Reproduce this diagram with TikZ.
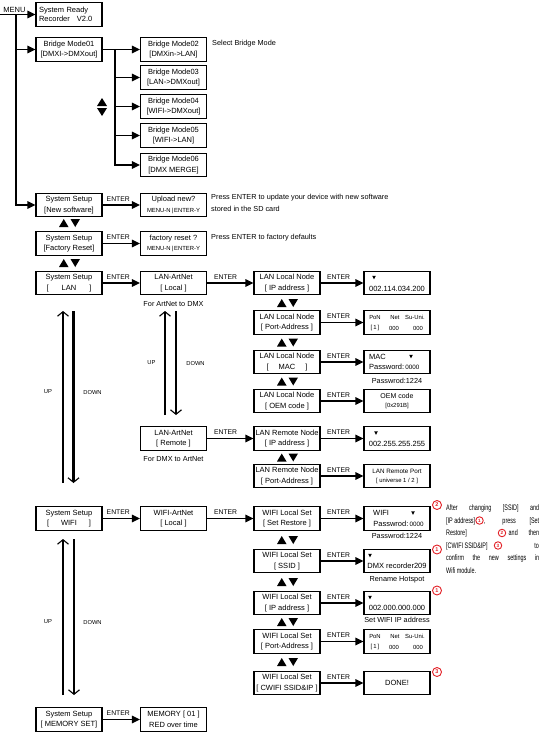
\documentclass[tikz,border=0pt]{standalone}
\usepackage{fontspec}
\setmainfont{Liberation Sans}
\newfontfamily\narrowsans[FakeStretch=0.68]{Liberation Sans}
\usetikzlibrary{arrows.meta,calc}
\definecolor{rred}{RGB}{226,32,38}
\newcommand\fsz[2]{\fontsize{#1}{#2}\selectfont}
\newcommand\UpDownPair[2]{%
  \fill (#1-10.5,#2+4) -- (#1-1,#2+4) -- (#1-5.75,#2-4) -- cycle;
  \fill (#1+1,#2-4) -- (#1+10.5,#2-4) -- (#1+5.75,#2+4) -- cycle;}
\newcommand\DownMark[2]{%
  \fill (#1-1.8,#2-1.6) -- (#1+1.8,#2-1.6) -- (#1,#2+1.8) -- cycle;}
\newcommand\PoNGrid[3]{%
  \node[sml] (#3a) at (#1-22,#2-5.5) {PoN};
  \node[sml] (#3b) at (#1-2,#2-5.5) {Net};
  \node[sml] (#3c) at (#1+18,#2-5.5) {Su-Uni.};
  \node[sml] (#3d) at (#1-22,#2+5.5) {[\,1\,]};
  \node[sml] (#3e) at (#1-3,#2+5.5) {000};
  \node[sml] (#3f) at (#1+21,#2+5.5) {000};}
\begin{document}
\begin{tikzpicture}[x=1pt,y=-1pt,
  box/.style={draw, line width=1.1pt, minimum width=66pt, minimum height=23.5pt, inner sep=0pt, align=center, font=\fsz{7.5}{10.5}},
  vbox/.style={draw, line width=1.1pt, minimum width=66pt, minimum height=23.5pt, inner sep=0pt},
  arr/.style={line width=1.6pt, -{Triangle[length=8pt,width=7.5pt]}},
  entr/.style={above=3pt, inner sep=0pt, font=\fsz{6.8}{8}},
  txt/.style={inner sep=0pt, font=\fsz{7.3}{9}},
  vtxt/.style={inner sep=0pt, font=\fsz{7.5}{9}},
  sml/.style={inner sep=0pt, font=\fsz{5.9}{7}},
  udl/.style={inner sep=0pt, font=\fsz{5.8}{7}},
  ptxt/.style={inner sep=0pt, font=\narrowsans\fsz{8}{9}},
  rc/.style={circle, draw=rred, line width=0.9pt, text=rred, inner sep=0pt, minimum size=9pt, font=\fsz{5.5}{6}\bfseries},
  rcs/.style={rc, minimum size=7.5pt, font=\fsz{4.6}{5}\bfseries},
  barb/.style={-{Straight Barb[length=4.5pt,width=11pt,line width=1.1pt]}},
]
\useasboundingbox (0,0) rectangle (543,736);

% ---------- left column ----------
\node[box, align=left, text width=60pt, inner xsep=3pt, font=\fsz{7.5}{8.5}] (sysready) at (69,14.5) {System Ready\\Recorder\hspace{7pt}V2.0};
\node[box] (bm01) at (69,49.5) {Bridge Mode01\\{}[DMXI->DMXout]};
\node[box] (newsw) at (69,205) {System Setup\\{}[New software]};
\node[box] (factory) at (69,243.5) {System Setup\\{}[Factory Reset]};
\node[box] (lan) at (69,283) {System Setup\\{}[\hspace{13pt}LAN\hspace{13pt}]};
\node[box] (wifi) at (69,518.5) {System Setup\\{}[\hspace{12pt}WIFI\hspace{12pt}]};
\node[box] (memset) at (69,719.5) {System Setup\\{}[ MEMORY SET]};

% ---------- second column ----------
\node[box] (bm02) at (173.5,49.5) {Bridge Mode02\\{}[DMXin->LAN]};
\node[box] (bm03) at (173.5,77.5) {Bridge Mode03\\{}[LAN->DMXout]};
\node[box] (bm04) at (173.5,106.5) {Bridge Mode04\\{}[WIFI->DMXout]};
\node[box] (bm05) at (173.5,135.5) {Bridge Mode05\\{}[WIFI->LAN]};
\node[box] (bm06) at (173.5,165) {Bridge Mode06\\{}[DMX MERGE]};
\node[box] (upload) at (173.5,205) {Upload new?\\{\fsz{5.9}{7}MENU-N\,|\,ENTER-Y}};
\node[box] (freset) at (173.5,243.5) {factory reset ?\\{\fsz{5.9}{7}MENU-N\,|\,ENTER-Y}};
\node[box] (lanlocal) at (173.5,283) {LAN-ArtNet\\{}[ Local ]};
\node[box] (lanremote) at (173.5,438.5) {LAN-ArtNet\\{}[ Remote ]};
\node[box] (wifilocal) at (173.5,518.5) {WIFI-ArtNet\\{}[ Local ]};
\node[box] (memory) at (173.5,719.5) {MEMORY [ 01 ]\\RED over time};

% ---------- third column ----------
\node[box] (llip) at (287,283) {LAN Local Node\\{}[ IP address ]};
\node[box] (llport) at (287,322.5) {LAN Local Node\\{}[ Port-Address ]};
\node[box] (llmac) at (287,362) {LAN Local Node\\{}[\hspace{10pt}MAC\hspace{10pt}]};
\node[box] (lloem) at (287,401) {LAN Local Node\\{}[ OEM code ]};
\node[box] (lrip) at (287,438.5) {LAN Remote Node\\{}[ IP address ]};
\node[box] (lrport) at (287,476) {LAN Remote Node\\{}[ Port-Address ]};
\node[box] (wset) at (287,518.5) {WIFI Local Set\\{}[ Set Restore ]};
\node[box] (wssid) at (287,561) {WIFI Local Set\\{}[ SSID ]};
\node[box] (wip) at (287,603) {WIFI Local Set\\{}[ IP address ]};
\node[box] (wport) at (287,641.5) {WIFI Local Set\\{}[ Port-Address ]};
\node[box] (wcw) at (287,683) {WIFI Local Set\\{}[ CWIFI SSID\&IP ]};

% ---------- fourth column (value boxes) ----------
\node[vbox] (vip) at (397,283) {};
\node[vbox] (vport) at (397,322.5) {};
\node[vbox] (vmac) at (397,362) {};
\node[vbox] (voem) at (397,401) {};
\node[vbox] (vrip) at (397,438.5) {};
\node[vbox] (vrport) at (397,476) {};
\node[vbox] (vwifi) at (397,518.5) {};
\node[vbox] (vssid) at (397,561) {};
\node[vbox] (vwip) at (397,603) {};
\node[vbox] (vwport) at (397,641.5) {};
\node[box] (done) at (397,683) {DONE!};

% value box contents
\DownMark{374}{277.5}
\node[vtxt] (tip1) at (397,288.5) {002.114.034.200};
\PoNGrid{397}{322.5}{lp}
\node[vtxt, anchor=west] (tmac) at (369,356.5) {MAC};
\DownMark{411}{356.5}
\node[vtxt, anchor=west] (tpw) at (369,367) {Password:\,{\fsz{6.3}{7}0000}};
\node[vtxt, font=\fsz{7}{8}] (toem1) at (397,395.5) {OEM code};
\node[sml] (toem2) at (397,406) {[0x291B]};
\DownMark{376}{433}
\node[vtxt] (trip) at (397,443.5) {002.255.255.255};
\node[sml, font=\fsz{6.3}{7}] (trp1) at (397,471) {LAN Remote Port};
\node[sml] (trp2) at (397,481) {[ universe 1 / 2 ]};
\node[vtxt, anchor=west] (twifi) at (373,513) {WIFI};
\DownMark{413}{513}
\node[vtxt] (twpw) at (398.5,523.5) {Passwrod:\,{\fsz{6.3}{7}0000}};
\DownMark{370}{555.5}
\node[vtxt] (tssid) at (397,565.5) {DMX recorder209};
\DownMark{370}{597.5}
\node[vtxt] (twip) at (397,607.5) {002.000.000.000};
\PoNGrid{397}{641.5}{wp}

% texts below boxes
\node[txt] (n1) at (173.5,304) {For ArtNet to DMX};
\node[txt] (n2) at (173.5,459) {For DMX to ArtNet};
\node[txt] (n3) at (397,380.5) {Passwrod:1224};
\node[txt] (n4) at (397,536) {Passwrod:1224};
\node[txt] (n5) at (397,580) {Rename Hotspot};
\node[txt] (n6) at (397,619.5) {Set WIFI IP address};

% side notes
\node[txt, anchor=west] (s1) at (212,43.5) {Select Bridge Mode};
\node[txt, anchor=west] (s2) at (211,197.5) {Press ENTER to update your device with new software};
\node[txt, anchor=west] (s3) at (211,209) {stored in the SD card};
\node[txt, anchor=west] (s4) at (211,238) {Press ENTER to factory defaults};

% ---------- MENU trunk ----------
\node[txt, font=\fsz{7.5}{9}] (menu) at (14.5,9.5) {MENU};
\coordinate (m0) at (0,14.5);
\coordinate (mv) at (16,14.5);
\draw[arr] (m0) -- (sysready.west);
\draw[arr] (mv) |- (newsw.west);
\draw[arr] (mv |- bm01.west) -- (bm01.west);

% bridge branch
\coordinate (bj) at (115,49.5);
\draw[arr] (bm01.east) -- (bj) |- (bm06.west);
\draw[arr] (bj) -- (bm02.west);
\draw[arr] (bj |- bm03.west) -- (bm03.west);
\draw[arr] (bj |- bm04.west) -- (bm04.west);
\draw[arr] (bj |- bm05.west) -- (bm05.west);
\fill (97,106) -- (107,106) -- (102,98) -- cycle;
\fill (97,108) -- (107,108) -- (102,116) -- cycle;

% ---------- ENTER arrows ----------
\draw[arr] (newsw) -- node[entr,pos=0.42] (e1) {ENTER} (upload);
\draw[arr] (factory) -- node[entr,pos=0.42] (e2) {ENTER} (freset);
\draw[arr] (lan) -- node[entr,pos=0.42] (e3) {ENTER} (lanlocal);
\draw[arr] (lanlocal) -- node[entr,pos=0.4] (e4) {ENTER} (llip);
\draw[arr] (llip) -- node[entr,pos=0.42] (e5) {ENTER} (vip);
\draw[arr] (llport) -- node[entr,pos=0.42] (e6) {ENTER} (vport);
\draw[arr] (llmac) -- node[entr,pos=0.42] (e7) {ENTER} (vmac);
\draw[arr] (lloem) -- node[entr,pos=0.42] (e8) {ENTER} (voem);
\draw[arr] (lanremote) -- node[entr,pos=0.4] (e9) {ENTER} (lrip);
\draw[arr] (lrip) -- node[entr,pos=0.42] (e10) {ENTER} (vrip);
\draw[arr] (lrport) -- node[entr,pos=0.42] (e11) {ENTER} (vrport);
\draw[arr] (wifi) -- node[entr,pos=0.42] (e12) {ENTER} (wifilocal);
\draw[arr] (wifilocal) -- node[entr,pos=0.4] (e13) {ENTER} (wset);
\draw[arr] (wset) -- node[entr,pos=0.42] (e14) {ENTER} (vwifi);
\draw[arr] (wssid) -- node[entr,pos=0.42] (e15) {ENTER} (vssid);
\draw[arr] (wip) -- node[entr,pos=0.42] (e16) {ENTER} (vwip);
\draw[arr] (wport) -- node[entr,pos=0.42] (e17) {ENTER} (vwport);
\draw[arr] (wcw) -- node[entr,pos=0.42] (e18) {ENTER} (done);
\draw[arr] (memset) -- node[entr,pos=0.42] (e19) {ENTER} (memory);

% ---------- up/down triangle pairs ----------
\UpDownPair{69.5}{223}
\UpDownPair{69.5}{263}
\UpDownPair{287.5}{303}
\UpDownPair{287.5}{342.5}
\UpDownPair{287.5}{381.5}
\UpDownPair{287.5}{457.5}
\UpDownPair{287.5}{540}
\UpDownPair{287.5}{582}
\UpDownPair{287.5}{622}
\UpDownPair{287.5}{662}

% ---------- UP / DOWN long arrows ----------
\coordinate (a1b) at (63,483);   \coordinate (a1t) at (63,311);
\coordinate (a2t) at (73.5,311); \coordinate (a2b) at (73.5,483);
\draw[barb, line width=1.3pt] (a1b) -- (a1t);
\draw[barb, line width=2.3pt] (a2t) -- (a2b);
\node[udl] (up1) at (48,392) {UP};
\node[udl] (dn1) at (92.5,392) {DOWN};

\coordinate (b1b) at (165,415);  \coordinate (b1t) at (165,311);
\coordinate (b2t) at (176,311);  \coordinate (b2b) at (176,415);
\draw[barb, line width=2.3pt] (b1b) -- (b1t);
\draw[barb, line width=1.3pt] (b2t) -- (b2b);
\node[udl] (up2) at (151.5,363) {UP};
\node[udl] (dn2) at (195.5,363) {DOWN};

\coordinate (c1b) at (63,695);   \coordinate (c1t) at (63,539);
\coordinate (c2t) at (74,539);   \coordinate (c2b) at (74,695);
\draw[barb, line width=1.3pt] (c1b) -- (c1t);
\draw[barb, line width=2.3pt] (c2t) -- (c2b);
\node[udl] (up3) at (48,622) {UP};
\node[udl] (dn3) at (92.5,622) {DOWN};

% ---------- red markers and note ----------
\node[rc] (r2) at (437,505) {2};
\node[rc] (r1a) at (437,549.5) {1};
\node[rc] (r1b) at (437,590.5) {1};
\node[rc] (r3) at (437,672) {3};

\node[ptxt, anchor=base west] (p1) at (446,510.5) {\makebox[93pt][s]{After changing [SSID] and}};
\node[ptxt, anchor=base west] (p2a) at (446,523) {[IP address]};
\node[rcs] (p2c) at (479.5,520.5) {1};
\node[ptxt, anchor=base west] (p2b) at (484,523) {\makebox[55pt][s]{, press [Set}};
\node[ptxt, anchor=base west] (p3a) at (446,535.5) {Restore]};
\node[rcs] (p3c) at (502,533) {2};
\node[ptxt, anchor=base west] (p3b) at (508.5,535.5) {\makebox[30.5pt][s]{and then}};
\node[ptxt, anchor=base west] (p4a) at (446,548) {[CWIFI SSID\&IP]};
\node[rcs] (p4c) at (498,545.5) {3};
\node[ptxt, anchor=base east] (p4b) at (539,548) {to};
\node[ptxt, anchor=base west] (p5) at (446,560.5) {\makebox[93pt][s]{confirm the new settings in}};
\node[ptxt, anchor=base west] (p6) at (446,573) {Wifi module.};
\end{tikzpicture}
\end{document}
